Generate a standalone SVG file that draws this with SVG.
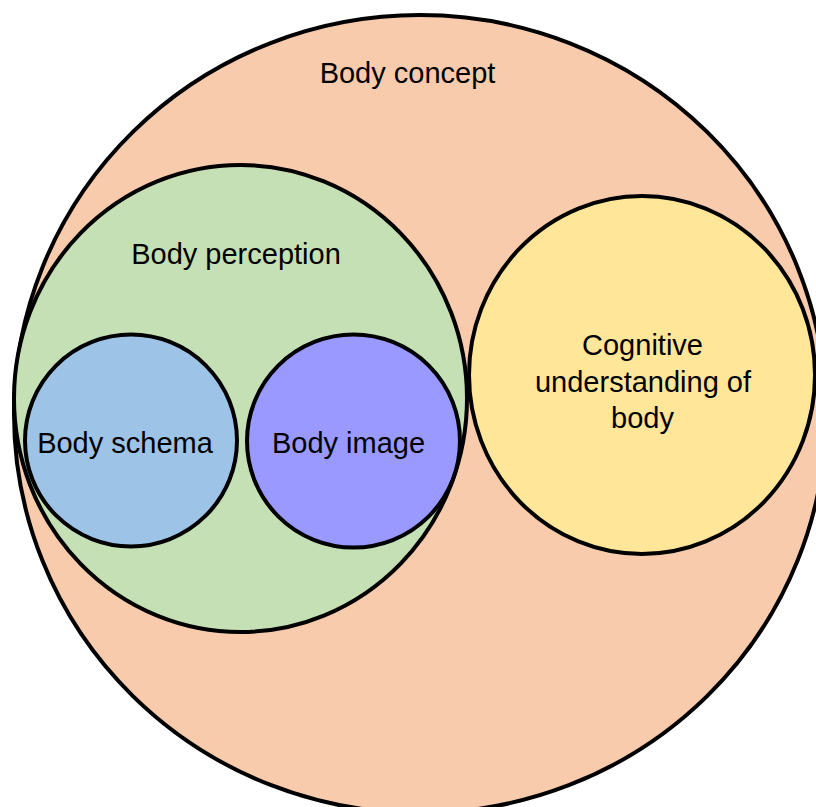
<svg xmlns="http://www.w3.org/2000/svg" width="816" height="807" viewBox="0 0 816 807">
<style>
.shape{stroke:#000;stroke-width:4}
.lbl{font-family:"Liberation Sans",Arial,sans-serif;font-size:29px;fill:#000;text-anchor:middle}
</style>
<rect width="816" height="807" fill="#fff"/>
<g id="body-concept">
<ellipse class="shape" cx="420" cy="414" rx="406" ry="399" fill="#F8CBAD"/>
<text class="lbl" x="407.5" y="83">Body concept</text>
</g>
<g id="body-perception">
<ellipse class="shape" cx="240.5" cy="398.5" rx="226.5" ry="233.5" fill="#C5E0B4"/>
<text class="lbl" x="236" y="264">Body perception</text>
</g>
<g id="body-schema">
<circle class="shape" cx="131" cy="440.5" r="106" fill="#9DC3E6"/>
<text class="lbl" x="125" y="453">Body schema</text>
</g>
<g id="body-image">
<circle class="shape" cx="353.5" cy="441" r="106.5" fill="#9999FF"/>
<text class="lbl" x="348.5" y="453">Body image</text>
</g>
<g id="cognitive">
<ellipse class="shape" cx="642" cy="375" rx="173" ry="179" fill="#FFE699"/>
<text class="lbl" x="642.5" y="355">Cognitive</text>
<text class="lbl" x="643" y="392">understanding of</text>
<text class="lbl" x="642.5" y="428">body</text>
</g>
<g id="connectors"/>
</svg>
